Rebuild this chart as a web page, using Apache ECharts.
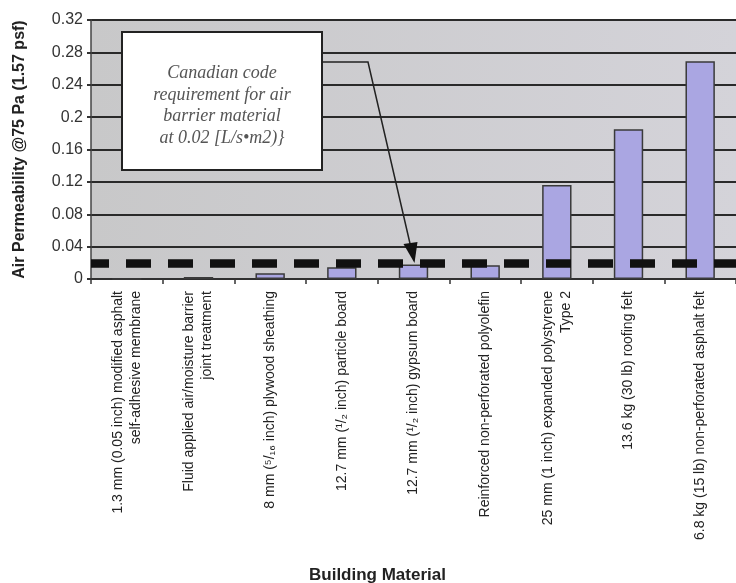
<!DOCTYPE html>
<html>
<head>
<meta charset="utf-8">
<script src="https://cdn.jsdelivr.net/npm/echarts@6/dist/echarts.min.js"></script>
<style>
html,body{margin:0;padding:0;background:#fff;}
#main{width:736px;height:583px;}
</style>
</head>
<body>
<div id="main"></div>
<script>
// ---- data ----
var categories = [
  "1.3 mm (0.05 inch) modified asphalt\nself-adhesive membrane",
  "Fluid applied air/moisture barrier\njoint treatment",
  "8 mm (\u2075/\u2081\u2086 inch) plywood sheathing",
  "12.7 mm (\u00b9/\u2082 inch) particle board",
  "12.7 mm (\u00b9/\u2082 inch) gypsum board",
  "Reinforced non-perforated polyolefin",
  "25 mm (1 inch) expanded polystyrene\nType 2",
  "13.6 kg (30 lb) roofing felt",
  "6.8 kg (15 lb) non-perforated asphalt felt"
];
var permeability = [0.0003, 0.0025, 0.007, 0.0145, 0.018, 0.017, 0.116, 0.185, 0.269];
var requirementLevel = 0.021;
var yTicks = { min: 0, max: 0.32, interval: 0.04 };
var yAxisTitle = "Air Permeability @75 Pa (1.57 psf)";
var xAxisTitle = "Building Material";
var noteText = "Canadian code\nrequirement for air\nbarrier material\nat 0.02 [L/s\u2022m2)}";

// ---- chart ----
var chart = echarts.init(document.getElementById('main'), null, {renderer: 'canvas'});
var gridLeft = 91, gridTop = 20, gridWidth = 652, gridHeight = 259;

var option = {
  backgroundColor: '#ffffff',
  animation: false,
  title: {
    text: xAxisTitle,
    left: 304, top: 562,
    textStyle: {fontFamily: 'Liberation Sans, Arial, sans-serif', fontWeight: 'bold', fontSize: 17, color: '#222'}
  },
  grid: {
    left: gridLeft, top: gridTop, width: gridWidth, height: gridHeight,
    show: true, borderWidth: 0,
    backgroundColor: new echarts.graphic.LinearGradient(0, 0, 1, 0, [
      {offset: 0, color: '#c8c8c9'},
      {offset: 1, color: '#d4d3d9'}
    ])
  },
  xAxis: {
    type: 'category',
    data: categories,
    axisLine: {show: true, lineStyle: {color: '#333', width: 1.5}},
    axisTick: {show: true, length: 5, lineStyle: {color: '#333', width: 1.5}},
    axisLabel: {
      rotate: 90, interval: 0, margin: 12,
      padding: [0, 0, 8, 0],
      fontFamily: 'Liberation Sans, Arial, DejaVu Sans, sans-serif',
      fontSize: 14, lineHeight: 18, color: '#222'
    },
    splitLine: {show: false}
  },
  yAxis: {
    type: 'value',
    min: yTicks.min, max: yTicks.max, interval: yTicks.interval,
    name: yAxisTitle,
    nameLocation: 'middle',
    nameGap: 63,
    nameRotate: 90,
    nameTextStyle: {fontFamily: 'Liberation Sans, Arial, sans-serif', fontWeight: 'bold', fontSize: 16, color: '#222'},
    axisLine: {show: true, lineStyle: {color: '#444', width: 1.5}},
    axisTick: {show: true, length: 4, lineStyle: {color: '#333', width: 2}},
    axisLabel: {fontFamily: 'Liberation Sans, Arial, sans-serif', fontSize: 16, color: '#333', margin: 8},
    splitLine: {show: true, lineStyle: {color: '#2a2a2a', width: 2}}
  },
  series: [{
    type: 'bar',
    data: permeability,
    barWidth: '41%',
    itemStyle: {color: '#aaa6e2', borderColor: '#3a3a3a', borderWidth: 1.5},
    markLine: {
      silent: true,
      symbol: ['none', 'none'],
      label: {show: false},
      lineStyle: {color: '#111', width: 8.5, type: [25, 17], dashOffset: 7, opacity: 1},
      data: [{yAxis: requirementLevel}]
    }
  }]
};
chart.setOption(option);

// annotation box with leader arrow
var boxX = 122, boxY = 32, boxW = 200, boxH = 138;
var tip = chart.convertToPixel({gridIndex: 0}, [4, requirementLevel]);
var elbowY = 62, elbowX = 368;
chart.setOption({
  graphic: [
    {type: 'rect', shape: {x: boxX, y: boxY, width: boxW, height: boxH},
     style: {fill: '#ffffff', stroke: '#222', lineWidth: 2}, z: 100},
    {type: 'text', x: boxX + boxW / 2, y: boxY + boxH / 2 + 5, z: 101,
     style: {text: noteText, fill: '#555', font: 'italic 18px "Liberation Serif", "DejaVu Serif", serif',
             align: 'center', verticalAlign: 'middle', lineHeight: 21.5}},
    {type: 'polyline', z: 100,
     shape: {points: [[boxX + boxW, elbowY], [elbowX, elbowY], [tip[0] - 2, tip[1] - 12]]},
     style: {stroke: '#222', lineWidth: 1.5, fill: null}},
    {type: 'polygon', z: 100,
     shape: {points: [[tip[0] + 1, tip[1] + 1], [tip[0] - 10, tip[1] - 18], [tip[0] + 4, tip[1] - 20]]},
     style: {fill: '#111'}}
  ]
});
</script>
</body>
</html>
